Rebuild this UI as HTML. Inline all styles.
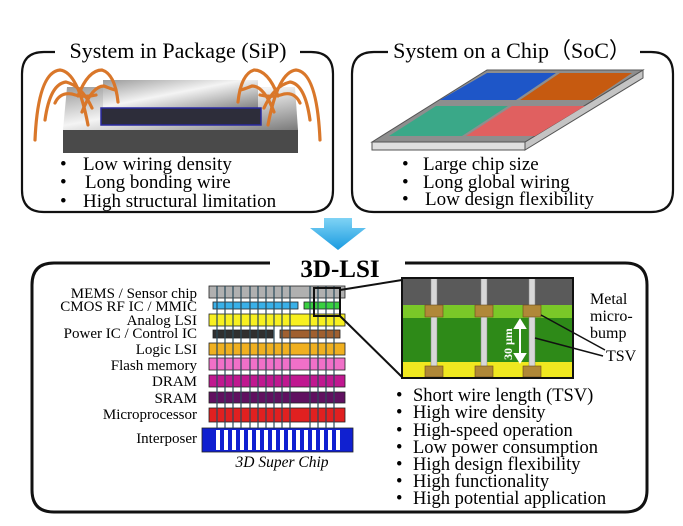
<!DOCTYPE html>
<html><head><meta charset="utf-8"><style>
html,body{margin:0;padding:0;background:#fff;}
svg{display:block;font-family:"Liberation Serif",serif;}
</style></head><body>
<svg width="683" height="526" viewBox="0 0 683 526" xmlns="http://www.w3.org/2000/svg">
<defs>
<linearGradient id="metal" x1="0" y1="0" x2="1" y2="1">
<stop offset="0" stop-color="#9a9a9a"/><stop offset="0.45" stop-color="#f4f4f4"/><stop offset="1" stop-color="#7a7a7a"/></linearGradient>
<linearGradient id="arr" x1="0" y1="0" x2="0" y2="1"><stop offset="0" stop-color="#7fd3f5"/><stop offset="1" stop-color="#1a9be0"/></linearGradient>
</defs>
<!-- top boxes -->
<path d="M55,52 H44 Q22,52 22,74 V190 Q22,212 44,212 H311 Q333,212 333,190 V74 Q333,52 311,52 H300" fill="none" stroke="#111" stroke-width="2.2"/>
<text x="178" y="58" font-size="22" text-anchor="middle">System in Package (SiP)</text>
<path d="M388,52 H374 Q352,52 352,74 V190 Q352,212 374,212 H651 Q673,212 673,190 V74 Q673,52 651,52 H640" fill="none" stroke="#111" stroke-width="2.2"/>
<text x="512" y="58" font-size="22" text-anchor="middle">System on a Chip（SoC）</text>
<!-- SiP chip -->
<rect x="63" y="130" width="235" height="23" fill="#4a4a4a"/>
<polygon points="67,87 295,87 298,130 63,130" fill="url(#metal)"/>
<polygon points="103,80 258,80 258,110 103,110" fill="url(#metal)"/>
<rect x="101" y="108" width="160" height="17" fill="#2d2d3a" stroke="#2a2aa0" stroke-width="1.5"/>
<g fill="none" stroke="#d9772a" stroke-width="3.2" stroke-linecap="round">
<path d="M35,140 Q38,72 60,70 Q78,72 88,125"/>
<path d="M45,120 Q50,84 66,82 Q82,86 92,108"/>
<path d="M55,103 Q60,92 72,94 Q84,98 96,95"/>
<path d="M78,96 Q88,70 102,70 Q115,74 118,102"/>
<path d="M82,112 Q92,86 104,86 Q114,90 116,90"/>
<path d="M320,140 Q317,72 296,70 Q278,72 268,125"/>
<path d="M310,120 Q305,84 290,82 Q274,86 264,108"/>
<path d="M300,103 Q295,92 284,94 Q272,98 260,95"/>
<path d="M278,96 Q268,70 254,70 Q241,74 238,102"/>
<path d="M274,112 Q264,86 252,86 Q242,90 240,90"/>
</g>
<!-- SiP bullets -->
<g font-size="19">
<text x="60" y="170">•</text><text x="83" y="170">Low wiring density</text>
<text x="60" y="188">•</text><text x="85" y="188">Long bonding wire</text>
<text x="60" y="207">•</text><text x="83" y="207">High structural limitation</text>
</g>
<!-- SoC plate -->
<polygon points="372,142 525,142 525,150 372,150" fill="#e0e0e0" stroke="#555" stroke-width="1"/>
<polygon points="525,142 643,70 643,78 525,150" fill="#c4c4c4" stroke="#555" stroke-width="1"/>
<polygon points="372,142 487,70 643,70 525,142" fill="#8e8e8e" stroke="#555" stroke-width="1"/>
<polygon points="440,100 487,73 556,73 516,100" fill="#1e56c8"/>
<polygon points="520,100 560,73 632,73 592,100" fill="#c65a10"/>
<polygon points="389,136 436,106 508,106 462,136" fill="#3aa888"/>
<polygon points="466,136 512,106 585,106 535,136" fill="#e06060"/>
<!-- SoC bullets -->
<g font-size="19">
<text x="402" y="170">•</text><text x="423" y="170">Large chip size</text>
<text x="402" y="188">•</text><text x="423" y="188">Long global wiring</text>
<text x="402" y="205">•</text><text x="425" y="205">Low design flexibility</text>
</g>
<!-- arrow -->
<polygon points="324,218 352,218 352,228 366,228 338,250 310,228 324,228" fill="url(#arr)"/>
<!-- bottom box -->
<path d="M270,263 H54 Q32,263 32,285 V490 Q32,512 54,512 H625 Q647,512 647,490 V285 Q647,263 625,263 H405" fill="none" stroke="#111" stroke-width="3"/>
<text x="340" y="277" font-size="25" font-weight="bold" text-anchor="middle">3D-LSI</text>
<!-- layer labels -->
<g font-size="15" text-anchor="end">
<text x="197" y="298">MEMS / Sensor chip</text>
<text x="197" y="311">CMOS RF IC / MMIC</text>
<text x="197" y="325">Analog LSI</text>
<text x="197" y="338">Power IC / Control IC</text>
<text x="197" y="354">Logic LSI</text>
<text x="197" y="370">Flash memory</text>
<text x="197" y="386">DRAM</text>
<text x="197" y="403">SRAM</text>
<text x="197" y="419">Microprocessor</text>
<text x="197" y="443">Interposer</text>
</g>
<!-- layers -->
<g stroke="#222" stroke-width="0.8">
<rect x="209" y="286" width="136" height="12" fill="#b0b0b0"/>
<rect x="213" y="302" width="85" height="7" fill="#3ab0e8"/>
<rect x="304" y="302" width="36" height="7" fill="#3ad040"/>
<rect x="209" y="314" width="136" height="12" fill="#f8f020"/>
<rect x="213" y="330" width="60" height="8" fill="#303030"/>
<rect x="280" y="330" width="60" height="8" fill="#a06030"/>
<rect x="209" y="343" width="136" height="12" fill="#f0b020"/>
<rect x="209" y="358" width="136" height="12" fill="#f070c8"/>
<rect x="209" y="375" width="136" height="12" fill="#c01890"/>
<rect x="209" y="392" width="136" height="11" fill="#601060"/>
<rect x="209" y="408" width="136" height="14" fill="#e02020"/>
<rect x="202" y="428" width="151" height="24" fill="#1020d0"/>
</g>
<g stroke="#2a4a5a" stroke-width="1.4" opacity="0.85">
<path d="M217,286V428M225,286V428M233,286V428M241,286V428M250,286V428M258,286V428M266,286V428M274,286V428M282,286V428M290,286V428M310,286V428M318,286V428M326,286V428M334,286V428"/>
</g>
<g fill="#fff"><rect x="216" y="430" width="4" height="20"/><rect x="224" y="430" width="4" height="20"/><rect x="232" y="430" width="4" height="20"/><rect x="240" y="430" width="4" height="20"/><rect x="248" y="430" width="4" height="20"/><rect x="256" y="430" width="4" height="20"/><rect x="264" y="430" width="4" height="20"/><rect x="272" y="430" width="4" height="20"/><rect x="280" y="430" width="4" height="20"/><rect x="288" y="430" width="4" height="20"/><rect x="296" y="430" width="4" height="20"/><rect x="304" y="430" width="4" height="20"/><rect x="312" y="430" width="4" height="20"/><rect x="320" y="430" width="4" height="20"/><rect x="328" y="430" width="4" height="20"/><rect x="336" y="430" width="4" height="20"/></g>
<text x="282" y="467" font-size="15.5" font-style="italic" text-anchor="middle">3D Super Chip</text>
<!-- magnifier -->
<rect x="314" y="288" width="26" height="28" fill="none" stroke="#111" stroke-width="2"/>
<line x1="340" y1="290" x2="402" y2="280" stroke="#111" stroke-width="2"/>
<line x1="340" y1="316" x2="402" y2="377" stroke="#111" stroke-width="2"/>
<!-- detail -->
<rect x="402" y="278" width="171" height="27" fill="#5a5a5a"/>
<rect x="402" y="305" width="171" height="13" fill="#7ac828"/>
<rect x="402" y="318" width="171" height="44" fill="#2e8a18"/>
<rect x="402" y="362" width="171" height="16" fill="#f0e820"/>
<g fill="#d8d8d8" stroke="#888" stroke-width="0.5"><rect x="431" y="278" width="6" height="90"/><rect x="481" y="278" width="6" height="90"/><rect x="529" y="278" width="6" height="90"/></g>
<g fill="#b08838" stroke="#6a4a1a" stroke-width="0.6">
<rect x="425" y="305" width="18" height="12"/><rect x="475" y="305" width="18" height="12"/><rect x="523" y="305" width="18" height="12"/>
<rect x="425" y="366" width="18" height="11"/><rect x="475" y="366" width="18" height="11"/><rect x="523" y="366" width="18" height="11"/>
</g>
<rect x="402" y="278" width="171" height="100" fill="none" stroke="#111" stroke-width="2"/>
<g stroke="#fff" stroke-width="2" fill="#fff"><line x1="520" y1="326" x2="520" y2="356"/><polygon points="515,328 525,328 520,320"/><polygon points="515,354 525,354 520,362"/></g>
<text x="0" y="0" font-size="12" fill="#fff" font-weight="bold" transform="translate(512,360) rotate(-90)">30 μm</text>
<line x1="541" y1="315" x2="605" y2="350" stroke="#111" stroke-width="1.5"/>
<line x1="535" y1="338" x2="603" y2="356" stroke="#111" stroke-width="1.5"/>
<g font-size="16"><text x="590" y="304">Metal</text><text x="590" y="321">micro-</text><text x="590" y="338">bump</text><text x="606" y="361">TSV</text></g>
<!-- bottom bullets -->
<g font-size="18.5">
<text x="396" y="401">•</text><text x="413" y="401">Short wire length (TSV)</text>
<text x="396" y="418">•</text><text x="413" y="418">High wire density</text>
<text x="396" y="436">•</text><text x="413" y="436">High-speed operation</text>
<text x="396" y="453">•</text><text x="413" y="453">Low power consumption</text>
<text x="396" y="470">•</text><text x="413" y="470">High design flexibility</text>
<text x="396" y="487">•</text><text x="413" y="487">High functionality</text>
<text x="396" y="504">•</text><text x="413" y="504">High potential application</text>
</g>
</svg>
</body></html>
